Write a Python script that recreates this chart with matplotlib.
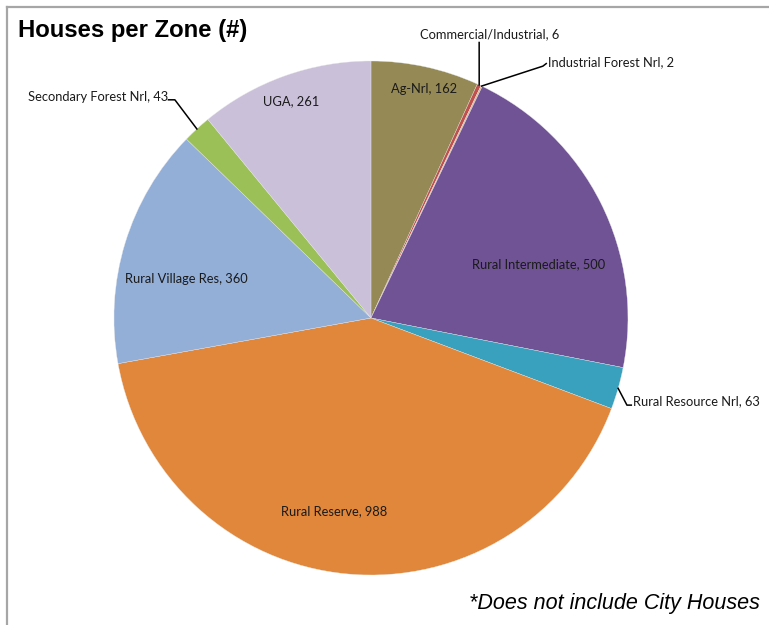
import matplotlib.pyplot as plt
import numpy as np

zones = ["Ag-Nrl", "Commercial/Industrial", "Industrial Forest Nrl",
         "Rural Intermediate", "Rural Resource Nrl", "Rural Reserve",
         "Rural Village Res", "Secondary Forest Nrl", "UGA"]
houses = [162, 6, 2, 500, 63, 988, 360, 43, 261]
colors = ["#958a56", "#c0504d", "#d8b48a", "#705395", "#39a1bd",
          "#e0873b", "#93afd8", "#9bc057", "#cbc0da"]

# label anchor (in pie radius units), alignment, and optional elbow for leader line
label_pos = [(0.206, 0.891), (0.463, 1.082), (0.689, 0.996),
             (0.654, 0.210), (1.019, -0.323), (-0.144, -0.751),
             (-0.720, 0.152), (-0.790, 0.860), (-0.311, 0.844)]
label_ha = ["center", "center", "left", "center", "left",
            "center", "center", "right", "center"]
leaders = {1: [(0.421, 1.072)],
           2: [(0.669, 0.980), (0.682, 0.990)],
           4: [(0.996, -0.339), (1.013, -0.339)],
           7: [(-0.763, 0.849), (-0.788, 0.849)]}

fig = plt.figure(figsize=(7.69, 6.25), dpi=100)
ax = fig.add_axes([0.1482, 0.08, 0.6684, 0.8224])

wedges, _ = ax.pie(houses, colors=colors, startangle=90, counterclock=False,
                   radius=1, wedgeprops=dict(linewidth=0.25, edgecolor="#e8e8e8"))
ax.set_xlim(-1, 1)
ax.set_ylim(-1, 1)
ax.set_aspect("equal")
ax.axis("off")

lbl_font = dict(family=["Lato", "DejaVu Sans"], fontsize=9.3, color="#1a1a1a")
for i, (w, name, val) in enumerate(zip(wedges, zones, houses)):
    x, y = label_pos[i]
    if i in leaders:
        mid = np.deg2rad((w.theta1 + w.theta2) / 2)
        pts = [(np.cos(mid), np.sin(mid))] + leaders[i]
        xs, ys = zip(*pts)
        ax.plot(xs, ys, color="black", lw=1.1, clip_on=False)
    va = "bottom" if i == 1 else "center"
    ax.text(x, y, f"{name}, {val}", ha=label_ha[i], va=va, **lbl_font)

fig.text(0.023, 0.951, "Houses per Zone (#)", fontsize=17.2, fontweight="bold",
         family="Liberation Sans", va="center")
fig.text(0.988, 0.034, "*Does not include City Houses", fontsize=15.5,
         style="italic", family="Liberation Sans", ha="right", va="center")

# chart frame (left and top edges visible)
fig.add_artist(plt.Line2D([0.0095, 0.0095], [0.0, 0.989], color="#a6a6a6", lw=1.6))
fig.add_artist(plt.Line2D([0.0095, 1.0], [0.989, 0.989], color="#a6a6a6", lw=1.6))

fig.savefig("out.png", dpi=100)
